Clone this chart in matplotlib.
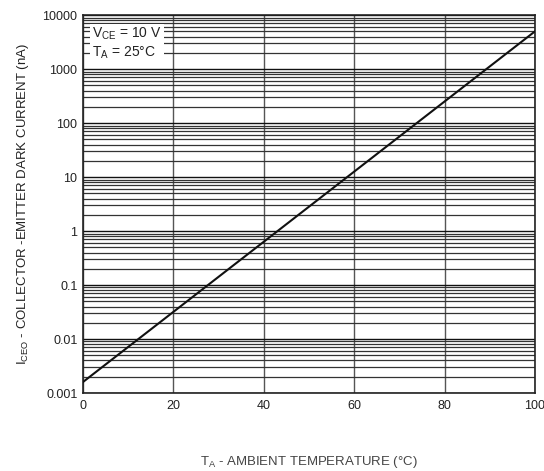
import numpy as np
import matplotlib
matplotlib.use('Agg')
import matplotlib.pyplot as plt
from matplotlib.ticker import FixedLocator, LogLocator, NullFormatter

plt.rcParams['font.family'] = ['Liberation Sans', 'DejaVu Sans']
plt.rcParams['mathtext.fontset'] = 'custom'
plt.rcParams['mathtext.rm'] = 'Liberation Sans'

# dark current vs. ambient temperature (straight line on log scale)
temp_c = [0, 100]
iceo_na = [0.0016, 5000]

x_ticks = [0, 20, 40, 60, 80, 100]
y_ticks = [0.001, 0.01, 0.1, 1, 10, 100, 1000, 10000]
y_tick_labels = ['0.001', '0.01', '0.1', '1', '10', '100', '1000', '10000']

fig = plt.figure(figsize=(5.44, 4.71), dpi=100)
ax = fig.add_axes([0.1526, 0.1656, 0.8309, 0.8024])

ax.set_yscale('log')
ax.set_xlim(0, 100)
ax.set_ylim(0.001, 10000)

ax.xaxis.set_major_locator(FixedLocator(x_ticks))
ax.yaxis.set_major_locator(FixedLocator(y_ticks))
ax.set_yticklabels(y_tick_labels)
ax.yaxis.set_minor_locator(LogLocator(base=10, subs=np.arange(2, 10)))
ax.yaxis.set_minor_formatter(NullFormatter())

ax.grid(True, which='major', axis='y', color='#111111', linewidth=1.0)
ax.grid(True, which='minor', axis='y', color='#333333', linewidth=0.9)
ax.grid(True, which='major', axis='x', color='#555555', linewidth=1.0)

ax.tick_params(axis='both', which='both', length=0, labelsize=9, colors='#222222')
ax.tick_params(axis='x', pad=5)
ax.tick_params(axis='y', pad=4)
for s in ax.spines.values():
    s.set_color('#222222')
    s.set_linewidth(1.2)

ax.plot(temp_c, iceo_na, color='#111111', linewidth=1.5, zorder=5)

# test conditions box
ax.text(2.0, 3000, '$\\mathregular{V_{CE}}$ = 10 V\n$\\mathregular{T_A}$ = 25°C',
        fontsize=10, color='#222222', va='center', ha='left', linespacing=1.15,
        bbox=dict(facecolor='white', edgecolor='none', pad=1.5), zorder=6)

ax.set_xlabel('$\\mathregular{T_A}$ - AMBIENT TEMPERATURE (°C)', fontsize=9.5,
              color='#444444', labelpad=30)
ax.set_ylabel('$\\mathregular{I_{CEO}}$ - COLLECTOR -EMITTER DARK CURRENT (nA)',
              fontsize=9.5, color='#222222', labelpad=8)

fig.savefig('out.png', dpi=100)
